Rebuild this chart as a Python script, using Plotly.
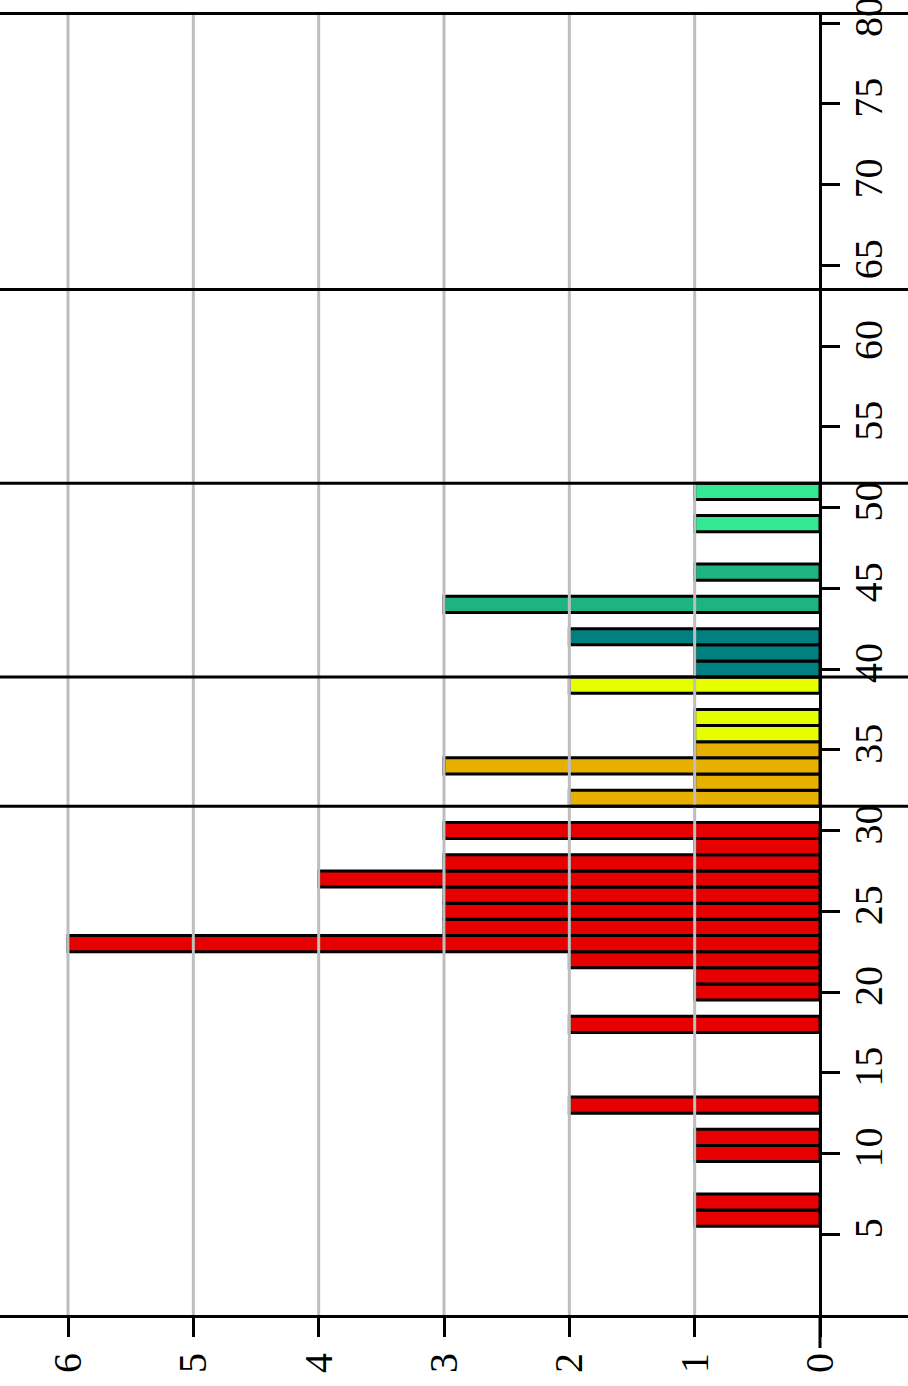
import plotly.graph_objects as go

# ---- data ----
red_bins = [6, 7, 10, 11, 13, 18, 20, 21, 22, 23, 24, 25, 26, 27, 28, 29, 30]
red_counts = [1, 1, 1, 1, 2, 2, 1, 1, 2, 6, 3, 3, 3, 4, 3, 1, 3]
orange_bins = [32, 33, 34, 35]
orange_counts = [2, 1, 3, 1]
yellow_bins = [36, 37, 39]
yellow_counts = [1, 1, 2]
teal_bins = [40, 41, 42]
teal_counts = [1, 1, 2]
green_bins = [44, 46]
green_counts = [3, 1]
lgreen_bins = [49, 51]
lgreen_counts = [1, 1]

group_bounds = [31.5, 39.5, 51.5, 63.5]
count_ticks = [0, 1, 2, 3, 4, 5, 6]
bin_ticks = [5, 10, 15, 20, 25, 30, 35, 40, 45, 50, 55, 60, 65, 70, 75, 80]

series = [
    (red_bins, red_counts, "#E60000"),
    (orange_bins, orange_counts, "#E6B000"),
    (yellow_bins, yellow_counts, "#E6FF00"),
    (teal_bins, teal_counts, "#008080"),
    (green_bins, green_counts, "#1DB382"),
    (lgreen_bins, lgreen_counts, "#33E890"),
]

fig = go.Figure()
for bins, counts, col in series:
    fig.add_trace(go.Bar(
        y=bins, x=counts, orientation="h", width=1,
        marker=dict(color=col, line=dict(color="black", width=3)),
        showlegend=False, hoverinfo="skip",
    ))

W, H = 908, 1386
x_left, x_right = 6.5426, -0.7021
font = dict(family="Liberation Serif", size=40, color="black")

fig.update_layout(
    width=W, height=H,
    margin=dict(l=0, r=0, t=15, b=71, autoexpand=False),
    paper_bgcolor="white", plot_bgcolor="white",
    barmode="overlay",
    font=font,
    xaxis=dict(
        range=[x_left, x_right], tickvals=count_ticks, ticks="outside",
        ticklen=19, tickwidth=3, tickcolor="black", tickangle=-90,
        showgrid=False, zeroline=False, showline=True, linewidth=3,
        linecolor="black", mirror=True, tickfont=font, automargin=False,
        ticklabeloverflow="allow",
    ),
    yaxis=dict(
        range=[0, 80.5], tickvals=bin_ticks, ticks="outside",
        ticklen=18, tickwidth=3, tickcolor="black", tickangle=-90,
        showgrid=False, zeroline=False, showline=True, linewidth=3,
        linecolor="black", anchor="free", side="right",
        position=(0 - x_left) / (x_right - x_left), tickfont=font,
        automargin=False, ticklabeloverflow="allow", ticklabelstandoff=-6,
    ),
)

# gridlines above bars
for v in count_ticks[1:]:
    fig.add_shape(type="line", xref="x", yref="paper", x0=v, x1=v, y0=0, y1=1,
                  line=dict(color="#BEBEBE", width=3), layer="above")
# group separators
for b in group_bounds:
    fig.add_shape(type="line", xref="paper", yref="y", x0=0, x1=1, y0=b, y1=b,
                  line=dict(color="black", width=3), layer="above")
# axis line extension below the plot at value 0
fig.add_shape(type="line", xref="x", yref="paper", x0=0, x1=0, y0=0, y1=-33 / 1300,
              line=dict(color="black", width=3), layer="above")

fig.write_html(
    "out.html",
    config={"displayModeBar": False},
    post_script="document.body.style.margin='0';document.body.style.padding='0';",
)
